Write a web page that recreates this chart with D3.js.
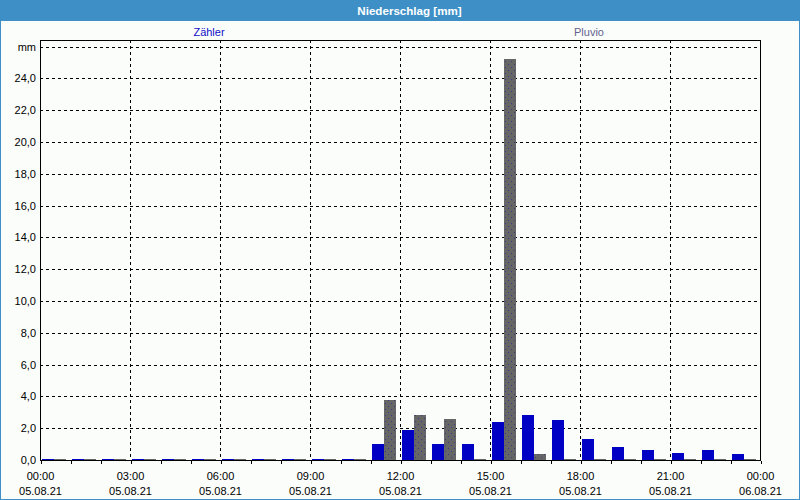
<!DOCTYPE html>
<html><head><meta charset="utf-8">
<script src="https://cdn.jsdelivr.net/npm/d3@7"></script>
<style>
html,body{margin:0;padding:0;background:#fff;}
svg{display:block;}
text{font-family:"Liberation Sans",Arial,sans-serif;}
</style></head>
<body>
<svg id="c" width="800" height="500"></svg>
<script>
// ---- data ----
const hours = ["00:00","01:00","02:00","03:00","04:00","05:00","06:00","07:00","08:00","09:00","10:00","11:00",
               "12:00","13:00","14:00","15:00","16:00","17:00","18:00","19:00","20:00","21:00","22:00","23:00"];
const seriesNames = ["Zähler","Pluvio"];
const zaehler = [0.06,0.06,0.06,0.06,0.06,0.06,0.06,0.06,0.06,0.06,0.06,1.0,1.9,1.0,1.0,2.4,2.8,2.5,1.3,0.8,0.6,0.45,0.6,0.4];
const pluvio  = [0.06,0.06,0.06,0.06,0.06,0.06,0.06,0.06,0.06,0.06,0.06,3.8,2.8,2.6,0.06,25.2,0.4,0.06,0.06,0.06,0.06,0.06,0.06,0.06];
const yTicks = [0,2,4,6,8,10,12,14,16,18,20,22,24];
const yTopLabel = "mm";
const xTickTimes = ["00:00","03:00","06:00","09:00","12:00","15:00","18:00","21:00","00:00"];
const xTickDates = ["05.08.21","05.08.21","05.08.21","05.08.21","05.08.21","05.08.21","05.08.21","05.08.21","06.08.21"];
const title = "Niederschlag [mm]";

// ---- layout ----
const W = 800, H = 500;
const L = 40, R = 760, T = 40, B = 460;
const svg = d3.select("#c");
const parse = d3.timeParse("%Y-%m-%d %H:%M");
const t0 = parse("2021-08-05 00:00"), t1 = parse("2021-08-06 00:00");
const x = d3.scaleTime().domain([t0, t1]).range([L, R]);
const y = d3.scaleLinear().domain([0, 26]).range([B, 46.5]);
const hourDates = hours.map(h => parse("2021-08-05 " + h));
const inner = d3.scaleBand().domain(seriesNames).range([2, 26]).paddingInner(0.04);

// background & window frame
svg.append("rect").attr("x",0).attr("y",0).attr("width",W).attr("height",H).attr("fill","#3d8fc6");
svg.append("rect").attr("x",1).attr("y",21).attr("width",W-2).attr("height",H-22).attr("fill","#fbfdfb");
svg.append("text").attr("x",409.5).attr("y",14.5).attr("text-anchor","middle")
  .attr("fill","#fff").attr("font-weight","bold").attr("font-size",11.6).text(title);

// legend titles
svg.append("text").attr("x",209).attr("y",36).attr("text-anchor","middle").attr("font-size",11)
  .attr("fill","#1010c8").text(seriesNames[0]);
svg.append("text").attr("x",589).attr("y",36).attr("text-anchor","middle").attr("font-size",11)
  .attr("fill","#62628e").text(seriesNames[1]);

// pattern for pluvio
const defs = svg.append("defs");
const pat = defs.append("pattern").attr("id","dots").attr("patternUnits","userSpaceOnUse")
  .attr("width",6).attr("height",6);
pat.append("rect").attr("width",6).attr("height",6).attr("fill","#666666");
pat.append("rect").attr("x",1).attr("y",1).attr("width",1).attr("height",1).attr("fill","#3a3a86");
pat.append("rect").attr("x",4).attr("y",4).attr("width",1).attr("height",1).attr("fill","#3a3a86");

// grid
const g = svg.append("g").attr("shape-rendering","crispEdges");
g.selectAll(".hg").data(yTicks.concat([26])).enter().append("line")
  .attr("x1",L).attr("x2",R).attr("y1",d=>Math.round(y(d))+0.5).attr("y2",d=>Math.round(y(d))+0.5)
  .attr("stroke","#000").attr("stroke-dasharray","3,3");
const vGrid = xTickTimes.slice(1,-1).map(h => parse("2021-08-05 " + h));
g.selectAll(".vg").data(vGrid).enter().append("line")
  .attr("x1",d=>Math.round(x(d))+0.5).attr("x2",d=>Math.round(x(d))+0.5).attr("y1",T).attr("y2",B)
  .attr("stroke","#000").attr("stroke-dasharray","3,3");

// bars
const bars = svg.append("g").attr("shape-rendering","crispEdges");
const series = [zaehler, pluvio];
const fills = ["#0000c4","url(#dots)"];
series.forEach((vals, si) => {
  bars.selectAll(".b"+si).data(vals).enter().append("rect")
    .attr("x",(d,i)=>Math.round(x(hourDates[i]) + inner(seriesNames[si])))
    .attr("width",Math.round(inner.bandwidth()))
    .attr("y",d=>Math.round(y(d)))
    .attr("height",d=>Math.max(1, B - Math.round(y(d))))
    .attr("fill",fills[si]);
});

// frame
svg.append("rect").attr("x",L+0.5).attr("y",T+0.5).attr("width",R-L).attr("height",B-T)
  .attr("fill","none").attr("stroke","#000").attr("shape-rendering","crispEdges");

// x-axis ticks (hourly)
const xAxis = d3.axisBottom(x).ticks(d3.timeHour.every(1)).tickSize(3).tickFormat("");
const xa = svg.append("g").attr("transform",`translate(0.5,${B+0.5})`).call(xAxis);
xa.select(".domain").remove();
xa.selectAll("line").attr("shape-rendering","crispEdges");

// x labels
const xLabDates = xTickTimes.map((h,i)=> i === xTickTimes.length-1 ? t1 : parse("2021-08-05 " + h));
const xl = svg.append("g");
xl.selectAll(".xt").data(xLabDates).enter().append("text")
  .attr("x",d=>x(d)+0.5).attr("y",479.5).attr("text-anchor","middle").attr("font-size",11).attr("fill","#000")
  .text((d,i)=>xTickTimes[i]);
xl.selectAll(".xd").data(xLabDates).enter().append("text")
  .attr("x",d=>x(d)+0.5).attr("y",494.5).attr("text-anchor","middle").attr("font-size",11).attr("fill","#000")
  .text((d,i)=>xTickDates[i]);

// y labels
const fmt = d => d3.format(".1f")(d).replace(".", ",");
const yl = svg.append("g");
yl.selectAll(".yt").data(yTicks).enter().append("text")
  .attr("x",36).attr("y",d=>y(d)+4).attr("text-anchor","end").attr("font-size",11).attr("fill","#000")
  .text(fmt);
yl.append("text").attr("x",36).attr("y",y(26)+4).attr("text-anchor","end").attr("font-size",11)
  .attr("fill","#000").text(yTopLabel);
</script>
</body></html>
